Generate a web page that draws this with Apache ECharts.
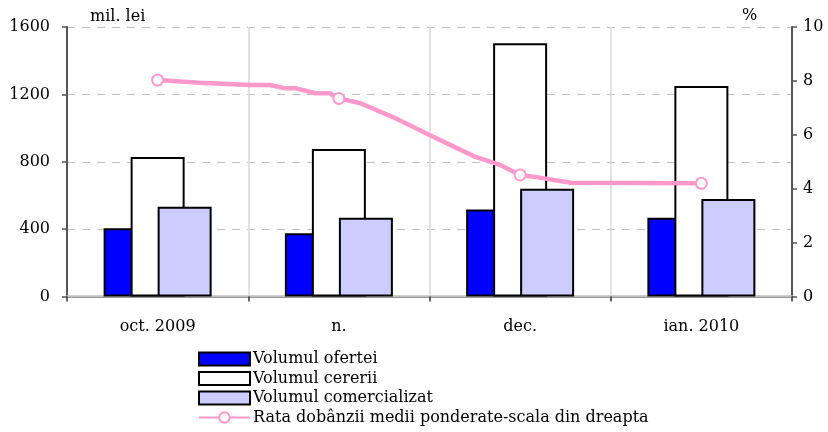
<!DOCTYPE html>
<html><head><meta charset="utf-8">
<script src="https://cdn.jsdelivr.net/npm/echarts@6/dist/echarts.min.js"></script>
<style>html,body{margin:0;padding:0;background:#fff}#c{width:828px;height:432px}</style>
</head><body><div id="c"></div>
<script>
const categories = ['oct. 2009', 'n.', 'dec.', 'ian. 2010'];
const volOferta = [405, 375, 517, 468];
const volCerere = [828, 875, 1504, 1249];
const volComerc = [533, 468, 640, 579];
// rate line: x position in category units (centres at 0.5, 1.5, ...), value in %
const rateX = [0.5, 0.73, 1.01, 1.12, 1.2, 1.26, 1.37, 1.45, 1.5, 1.62, 1.81, 2.0, 2.25, 2.39, 2.5, 2.6, 2.78, 3.5];
const rateY = [8.03, 7.93, 7.85, 7.85, 7.73, 7.73, 7.54, 7.54, 7.35, 7.17, 6.62, 5.99, 5.19, 4.88, 4.51, 4.42, 4.22, 4.2];
const rateMarked = [0.5, 1.5, 2.5, 3.5];
const leftTicks = [0, 400, 800, 1200, 1600];
const rightTicks = [0, 2, 4, 6, 8, 10];

const FONT = 'DejaVu Serif';
const chart = echarts.init(document.getElementById('c'), null, {renderer: 'canvas'});
const rateData = rateX.map((x, i) => rateMarked.includes(x)
  ? {value: [x, rateY[i]]}
  : {value: [x, rateY[i]], symbol: 'none'});
const barStyle = (c) => ({color: c, borderColor: '#000', borderWidth: 2});
chart.setOption({
  animation: false,
  textStyle: {fontFamily: FONT},
  grid: {left: 67, right: 36, top: 27, bottom: 135.5},
  graphic: [
    {type: 'text', left: 90, top: 9, style: {text: 'mil. lei', font: '16px "DejaVu Serif"', fill: '#000'}},
    {type: 'text', left: 742, top: 8, style: {text: '%', font: '16px "DejaVu Serif"', fill: '#000'}}
  ],
  legend: {
    orient: 'vertical', left: 198, top: 351, padding: 0, height: 90,
    itemWidth: 51, itemHeight: 13, itemGap: 3.5,
    textStyle: {fontFamily: FONT, fontSize: 16, color: '#000', padding: [0, 0, 0, -2], lineHeight: 13},
    data: [
      {name: 'Volumul ofertei', icon: 'rect'},
      {name: 'Volumul cererii', icon: 'rect'},
      {name: 'Volumul comercializat', icon: 'rect'},
      'Rata dobânzii medii ponderate-scala din dreapta']
  },
  xAxis: [
    {type: 'category', data: categories, position: 'bottom',
     axisLine: {lineStyle: {color: '#222', width: 2}},
     axisTick: {show: true, length: 5, lineStyle: {color: '#333', width: 1.5}},
     axisLabel: {fontFamily: FONT, fontSize: 16, color: '#000', margin: 22},
     splitLine: {show: true, lineStyle: {color: '#d9d9d9', width: 1.5}}},
    {type: 'value', min: 0, max: 4, position: 'top', show: true,
     axisLine: {show: true, lineStyle: {color: '#c0c0c0', width: 2.5}},
     axisTick: {show: false}, axisLabel: {show: false}, splitLine: {show: false}}
  ],
  yAxis: [
    {type: 'value', min: leftTicks[0], max: leftTicks[leftTicks.length - 1], interval: 400,
     axisLine: {show: true, lineStyle: {color: '#555', width: 2}},
     axisTick: {show: true, length: 5, lineStyle: {color: '#555', width: 1.5}},
     axisLabel: {fontFamily: FONT, fontSize: 16, color: '#000', margin: 17, formatter: v => String(v)},
     splitLine: {show: true, lineStyle: {color: '#c0c0c0', type: [8, 7], width: 1}}},
    {type: 'value', min: rightTicks[0], max: rightTicks[rightTicks.length - 1], interval: 2, position: 'right',
     axisLine: {show: true, lineStyle: {color: '#555', width: 2}},
     axisTick: {show: true, length: 5, lineStyle: {color: '#555', width: 1.5}},
     axisLabel: {fontFamily: FONT, fontSize: 16, color: '#000', margin: 11, formatter: v => String(v)},
     splitLine: {show: false}}
  ],
  series: [
    {name: 'Volumul ofertei', type: 'bar', data: volOferta, barWidth: 54, barGap: '-50%', itemStyle: barStyle('#0000ff')},
    {name: 'Volumul cererii', type: 'bar', data: volCerere, barWidth: 54, barGap: '-50%', itemStyle: barStyle('#ffffff')},
    {name: 'Volumul comercializat', type: 'bar', data: volComerc, barWidth: 54, barGap: '-50%', itemStyle: barStyle('#ccccff')},
    {name: 'Rata dobânzii medii ponderate-scala din dreapta', type: 'line', xAxisIndex: 1, yAxisIndex: 1,
     data: rateData, symbol: 'circle', symbolSize: 11, showAllSymbol: true, z: 5,
     lineStyle: {color: '#ff99cc', width: 4.5},
     itemStyle: {color: '#ffffff', borderColor: '#ff99cc', borderWidth: 2}}
  ]
});
</script></body></html>
